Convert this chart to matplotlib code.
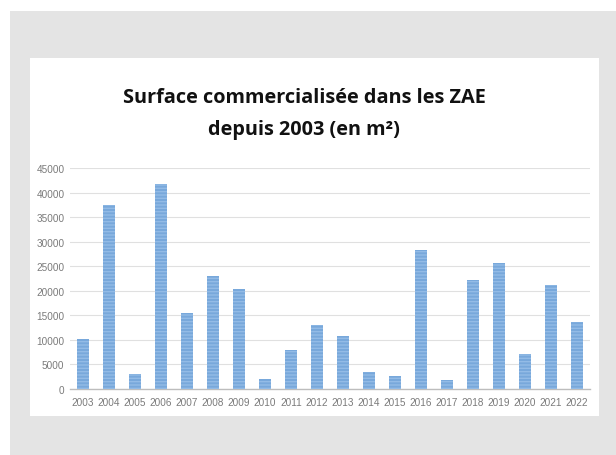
import matplotlib
matplotlib.use("Agg")
from matplotlib import pyplot as plt
from matplotlib.patches import Rectangle

# ----------------------------------- DATA ----------------------------------- #

years = [str(y) for y in range(2003, 2023)]
surface_m2 = [10200, 37500, 3100, 41700, 15500, 23000, 20400, 2100, 8000, 13100,
              10800, 3400, 2700, 28400, 1900, 22100, 25600, 7200, 21200, 13700]
y_ticks = list(range(0, 45001, 5000))

title_lines = ["Surface commercialisée dans les ZAE", "depuis 2003 (en m²)"]

# ----------------------------------- PLOT ----------------------------------- #

W, H = 616, 456


def px_rect(x0, y0, x1, y1, color):
    # rectangle given in pixel coords (origin top-left)
    return Rectangle((x0 / W, 1 - y1 / H), (x1 - x0) / W, (y1 - y0) / H,
                     transform=fig.transFigure, facecolor=color, edgecolor="none", zorder=-10)


fig = plt.figure(figsize=(W / 100, H / 100), dpi=100)
fig.patch.set_facecolor("white")
fig.patches.append(px_rect(10, 12, W, H, "#e4e4e4"))
fig.patches.append(px_rect(30, 59, 599, 417, "white"))

ax = fig.add_axes([70 / W, 1 - 390 / H, 520 / W, 221 / H])
ax.set_facecolor("none")

x = range(len(years))
ax.bar(x, surface_m2, width=0.43, color="#78a8db", edgecolor="#93bbe6",
       linewidth=0, hatch="-----", zorder=3)

ax.set_xlim(-0.5, len(years) - 0.5)
ax.set_ylim(0, 45000)
ax.set_yticks(y_ticks)
ax.set_yticklabels([str(v) for v in y_ticks], family="Liberation Sans")
ax.set_xticks(list(x))
ax.set_xticklabels(years, family="Liberation Sans")
ax.tick_params(axis="both", length=0, labelsize=7.2, colors="#7a7a7a")
ax.tick_params(axis="y", pad=4)
ax.tick_params(axis="x", pad=6)
ax.yaxis.grid(True, color="#e0e0e0", linewidth=0.8, zorder=0)
ax.set_axisbelow(True)
for side in ["top", "right", "left"]:
    ax.spines[side].set_visible(False)
ax.spines["bottom"].set_color("#bdbdbd")
ax.spines["bottom"].set_linewidth(1.0)

fig.text(304 / W, 1 - 98 / H, title_lines[0], ha="center", va="center",
         fontsize=14.3, fontweight="bold", family="Open Sans", color="#111111")
fig.text(304 / W, 1 - 130 / H, title_lines[1], ha="center", va="center",
         fontsize=14.3, fontweight="bold", family="Open Sans", color="#111111")

fig.savefig("out.png", dpi=100)
